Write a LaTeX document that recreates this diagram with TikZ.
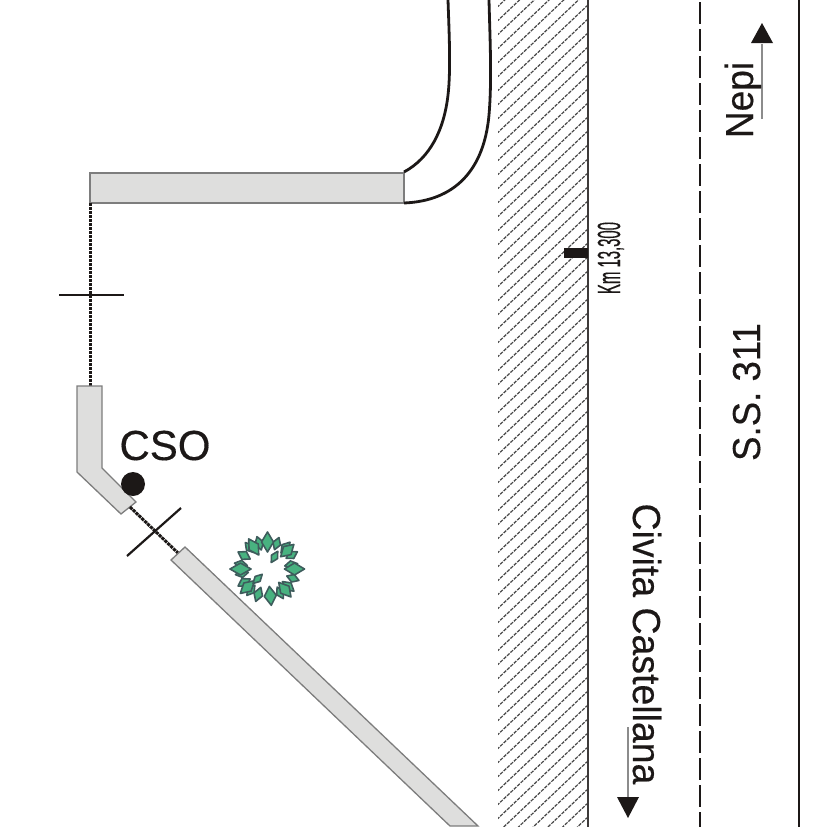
\documentclass[tikz,border=0pt]{standalone}
\usepackage{fontspec}
\setmainfont[FakeBold=0.35]{Liberation Sans}
\definecolor{slab}{RGB}{222,222,221}
\definecolor{slabedge}{RGB}{125,125,125}
\definecolor{ink}{RGB}{28,24,23}
\definecolor{leaf}{RGB}{72,178,128}
\definecolor{leafedge}{RGB}{62,92,92}
\tikzset{
  slabshape/.style={fill=slab,draw=slabedge,line width=1.3pt,line join=miter},
  lane/.style={draw=ink,line width=2.8pt},
  bendline/.style={draw=ink,line width=2.8pt},
  crossbar/.style={draw=ink,line width=2.2pt},
  dotline/.style={draw=ink,line width=3pt,dash pattern=on 3.2pt off .8pt},
  hatchline/.style={draw=black!72,line width=1.2pt,dash pattern=on 3.5pt off 1.2pt},
  roadlabel/.style={text=ink,inner sep=0pt,font=\fontsize{39pt}{39pt}\selectfont},
  arrowshaft/.style={draw=black!45,line width=1.4pt},
  arrowhead/.style={fill=ink,draw=none},
  treeleaf/.style={fill=leaf,draw=leafedge,line width=1.6pt,line join=round}
}
\newcommand{\leafat}[4]{%
  \path[treeleaf,shift={(267.5,569)},rotate=#1]
    (#2-#3/2,0) -- (#2,#4/2) -- (#2+#3/2,0) -- (#2,-#4/2) -- cycle;}
\begin{document}
\begin{tikzpicture}[x=1pt,y=-1pt]
\useasboundingbox (0,0) rectangle (826,827);
% hatched verge
\begin{scope}
  \clip (498,0) rectangle (588,827);
  \foreach \k in {0,...,72}{
    \draw[hatchline] (490,{\k*14}) -- ++(100,-95);
  }
\end{scope}
% road lines
\coordinate (edgetop) at (588,0);
\coordinate (edgebot) at (588,827);
\draw[draw=ink!85,line width=2pt] (edgetop) -- (edgebot);
\coordinate (midtop) at (700,2);
\coordinate (midbot) at (700,827);
\draw[lane,dash pattern=on 22pt off 5pt] (midtop) -- (midbot);
\coordinate (sidetop) at (799,0);
\coordinate (sidebot) at (799,827);
\draw[lane] (sidetop) -- (sidebot);
% km marker
\fill[ink] (564,248) rectangle (588,258);
\node[text=ink,inner sep=0pt,anchor=base,rotate=90,font=\fontsize{32pt}{32pt}\selectfont,xscale=.465] (km) at (620,258) {Km 13,300};
% building slabs
\path[slabshape] (90,173) rectangle (404,203);
\coordinate (sA) at (90,203);
\coordinate (sB) at (90,386);
\draw[dotline] (sA) -- (sB);
\coordinate (crossAl) at (59,295);
\coordinate (crossAr) at (124,295);
\draw[crossbar] (crossAl) -- (crossAr);
\path[slabshape] (77,386) -- (102,386) -- (102,468) -- (136,502) -- (121,514) -- (77,472) -- cycle;
\coordinate (sC) at (130,507);
\coordinate (sD) at (178,553);
\draw[dotline] (sC) -- (sD);
\coordinate (crossBl) at (127,556);
\coordinate (crossBr) at (181,508);
\draw[crossbar] (crossBl) -- (crossBr);
\path[slabshape] (171,560) -- (185,547) -- (478,826) -- (450,826) -- cycle;
% drive curves
\draw[bendline] (448,0) .. controls (449,30) and (451,70) .. (448,95) .. controls (444,130) and (430,158) .. (404,172);
\draw[bendline] (489,0) .. controls (490,40) and (492,80) .. (489,115) .. controls (484,170) and (455,201) .. (404,203);
% CSO
\node[circle,fill=ink,draw=none,minimum size=24pt,inner sep=0pt] (csodot) at (133,484) {};
\node[roadlabel,anchor=base] (cso) at (165,460) {\fontsize{42pt}{42pt}\selectfont CSO};
% tree
\foreach \a/\r/\l/\w in {10/24/13/8,30/28/13/8,50/28/14/9,70/27/13/8,-20/27/13/8,-40/27/15/9,-62/27/13/8,-110/27/15/9,-128/27/13/8,-150/27/14/9,-170/26/13/8,170/27/13/8,150/27/14/9,130/28/13/8,108/27/14/9}{
  \leafat{\a}{\r}{\l}{\w}
}
\foreach \a/\r/\l/\w in {0/27/20/12,43/27/18/11,90/27/20/12,122/26/19/11,180/27/21/12,222/27/19/11,276/27/19/12,310/27/19/11}{
  \leafat{\a}{\r}{\l}{\w}
}
\foreach \a/\r/\l/\w in {60/14/13/7,-135/14/13/7}{
  \leafat{\a}{\r}{\l}{\w}
}
% labels
\coordinate (nepiS) at (762,119);
\coordinate (nepiT) at (762,44);
\draw[arrowshaft] (nepiS) -- (nepiT);
\fill[arrowhead] (762,23) -- (773,43) -- (751,43) -- cycle;
\node[roadlabel,anchor=base,rotate=90,xscale=.95] (nepi) at (753,100) {Nepi};
\coordinate (civS) at (628,727);
\coordinate (civT) at (628,798);
\draw[arrowshaft] (civS) -- (civT);
\fill[arrowhead] (628,818) -- (617,797) -- (639,797) -- cycle;
\node[roadlabel,anchor=base,rotate=-90,xscale=.96] (civita) at (633,644) {Civita Castellana};
\node[roadlabel,anchor=base,rotate=90,xscale=.94] (ss) at (760,392) {S.S. 311};
\end{tikzpicture}
\end{document}
